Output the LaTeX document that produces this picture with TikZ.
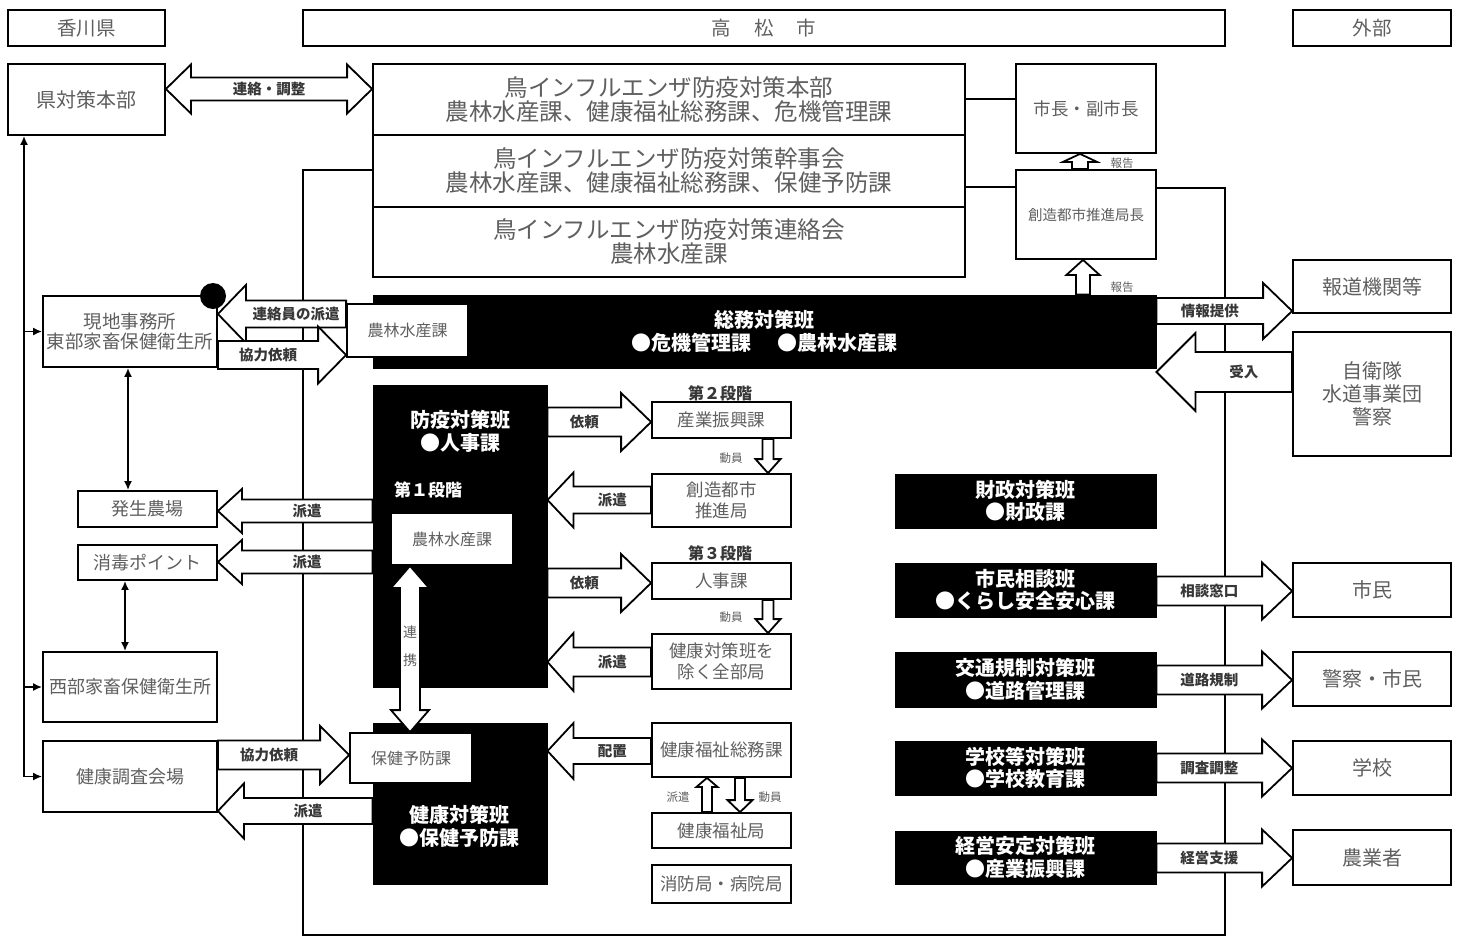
\documentclass[tikz,border=0pt]{standalone}
\usepackage{fontspec}
\setmainfont{Noto Sans CJK JP}
\usetikzlibrary{calc,arrows.meta}
\definecolor{tg}{RGB}{95,95,95}
\definecolor{lg}{RGB}{55,55,55}
% box by corners: style, name, x1, y1, x2, y2, text
\newcommand\BX[7]{\pgfmathsetmacro\bxw{#5-#3}\pgfmathsetmacro\bxh{#6-#4}%
  \node[#1, minimum width=\bxw pt, minimum height=\bxh pt] (#2) at ({(#3+#5)/2},{(#4+#6)/2}) {#7};}
% horizontal block arrow: from, tip, shaft half, head half, head length, label
\newcommand\HBA[6]{\draw[barrow] let \p1=#1, \p2=#2, \n1={sign(\x2-\x1)} in
  (\x1,{\y1+#3pt}) -- ({\x2-(\n1)*#5pt},{\y1+#3pt}) -- ({\x2-(\n1)*#5pt},{\y1+#4pt}) -- (\x2,\y1)
  -- ({\x2-(\n1)*#5pt},{\y1-#4pt}) -- ({\x2-(\n1)*#5pt},{\y1-#3pt}) -- (\x1,{\y1-#3pt}) -- cycle
  ({(\x1+\x2-(\n1)*#5pt)/2},\y1) node[lab] {#6};}
% vertical block arrow: from, tip, shaft half, head half, head length
\newcommand\VBA[5]{\draw[barrow] let \p1=#1, \p2=#2, \n1={sign(\y2-\y1)} in
  ({\x1+#3pt},\y1) -- ({\x1+#3pt},{\y2-(\n1)*#5pt}) -- ({\x1+#4pt},{\y2-(\n1)*#5pt}) -- (\x1,\y2)
  -- ({\x1-#4pt},{\y2-(\n1)*#5pt}) -- ({\x1-#3pt},{\y2-(\n1)*#5pt}) -- ({\x1-#3pt},\y1) -- cycle;}
% horizontal double block arrow: left tip, right tip, shaft half, head half, head length, label
\newcommand\DHA[6]{\draw[barrow] let \p1=#1, \p2=#2 in
  (\x1,\y1) -- ({\x1+#5pt},{\y1+#4pt}) -- ({\x1+#5pt},{\y1+#3pt}) -- ({\x2-#5pt},{\y1+#3pt}) -- ({\x2-#5pt},{\y1+#4pt})
  -- (\x2,\y1) -- ({\x2-#5pt},{\y1-#4pt}) -- ({\x2-#5pt},{\y1-#3pt}) -- ({\x1+#5pt},{\y1-#3pt}) -- ({\x1+#5pt},{\y1-#4pt}) -- cycle
  ({(\x1+\x2)/2},\y1) node[lab] {#6};}
% vertical double block arrow: top tip, bottom tip, shaft half, head half, head length
\newcommand\DVA[5]{\draw[barrow] let \p1=#1, \p2=#2 in
  (\x1,\y1) -- ({\x1+#4pt},{\y1-#5pt}) -- ({\x1+#3pt},{\y1-#5pt}) -- ({\x1+#3pt},{\y2+#5pt}) -- ({\x1+#4pt},{\y2+#5pt})
  -- (\x1,\y2) -- ({\x1-#4pt},{\y2+#5pt}) -- ({\x1-#3pt},{\y2+#5pt}) -- ({\x1-#3pt},{\y1-#5pt}) -- ({\x1-#4pt},{\y1-#5pt}) -- cycle;}
\begin{document}
\begin{tikzpicture}[x=1pt,y=-1pt,
  bx/.style={draw, line width=1.8pt, fill=white, inner sep=0pt, align=center, text=tg},
  blk/.style={draw=black, line width=1pt, fill=black, inner sep=0pt, align=center, text=white, font=\bfseries\fontsize{20}{22.5}\selectfont},
  wt/.style={text=white, font=\bfseries\fontsize{20}{23}\selectfont, align=center, inner sep=0pt},
  lab/.style={font=\bfseries\fontsize{14.5}{16}\selectfont, text=lg, inner sep=0pt},
  sml/.style={font=\fontsize{11.5}{13}\selectfont, text=tg, inner sep=0pt},
  ln/.style={line width=1.8pt},
  tip/.style={line width=1.8pt},
  barrow/.style={draw, line width=1.8pt, fill=white, line join=miter},
  fbig/.style={font=\fontsize{23.5}{24}\selectfont},
  f20/.style={font=\fontsize{20}{23}\selectfont},
  fhead/.style={font=\fontsize{19.5}{21}\selectfont},
  fgen/.style={font=\fontsize{18.5}{20.5}\selectfont},
  f18/.style={font=\fontsize{18}{21}\selectfont},
  f17/.style={font=\fontsize{17.5}{21}\selectfont},
  f16/.style={font=\fontsize{16}{18}\selectfont},
  fsozo/.style={font=\fontsize{14.5}{16}\selectfont},
  stage/.style={font=\bfseries\fontsize{16}{18}\selectfont, text=lg, inner sep=0pt},
]
\useasboundingbox (0,0) rectangle (1461,937);
\fill[white] (0,0) rectangle (1461,937);

% headers
\BX{bx,fhead}{hk}{8}{10}{165}{46}{香川県}
\BX{bx,fhead}{ht}{303}{10}{1225}{46}{高\hspace{23pt}松\hspace{23pt}市}
\BX{bx,fhead}{hg}{1293}{10}{1451}{46}{外部}

% top row
\BX{bx,f20}{ken}{8}{64}{165}{135}{県対策本部}
\BX{bx,fbig}{honbu}{373}{64}{965}{135}{鳥インフルエンザ防疫対策本部\\農林水産課、健康福祉総務課、危機管理課}
\BX{bx,fbig}{kanji}{373}{135}{965}{207}{鳥インフルエンザ防疫対策幹事会\\農林水産課、健康福祉総務課、保健予防課}
\BX{bx,fbig}{renraku}{373}{207}{965}{277}{鳥インフルエンザ防疫対策連絡会\\農林水産課}
\BX{bx,f17}{shicho}{1016}{64}{1156}{153}{市長・副市長}
\BX{bx,fsozo}{sozo}{1016}{170}{1156}{259}{創造都市推進局長}

% frame and connecting lines
\draw[ln] (kanji.west |- 0,170) -- (303,170) -- (303,935) -- (1225,935) -- (1225,188) -- (sozo.east |- 0,188);
\draw[ln] (honbu.east |- 0,99) -- (shicho.west |- 0,99);
\draw[ln] (kanji.east |- 0,187) -- (sozo.west |- 0,187);

% general affairs bar
\BX{blk}{soumu}{373}{295}{1156}{368}{総務対策班\\●危機管理課\hspace{26pt}●農林水産課}
\BX{bx,f16}{nousui1}{347}{304}{468}{357}{農林水産課}

% left column
\BX{bx,fgen}{genchi}{43}{296}{217}{367}{現地事務所\\東部家畜保健衛生所}
\BX{bx,f18}{hassei}{78}{491}{217}{527}{発生農場}
\BX{bx,f18}{shodoku}{78}{545}{217}{580}{消毒ポイント}
\BX{bx,f18}{seibu}{43}{652}{217}{722}{西部家畜保健衛生所}
\BX{bx,f18}{kenko}{43}{741}{217}{812}{健康調査会場}

% epidemic prevention / health groups
\BX{blk}{boeki}{373}{385}{547}{687}{}
\BX{bx,f16}{nousui2}{391}{513}{513}{565}{農林水産課}
\BX{blk}{kentai}{373}{723}{547}{884}{}
\BX{bx,f16}{hoken}{350}{733}{472}{783}{保健予防課}
\node[wt] (boekit) at (460,431) {防疫対策班\\●人事課};
\node[wt, font=\bfseries\fontsize{17}{20}\selectfont] (dai1) at (428,490) {第１段階};
\node[wt] (kentait) at (459,826) {健康対策班\\●保健予防課};

% middle column
\node[stage] (dai2) at (720,393) {第２段階};
\node[stage] (dai3) at (720,553) {第３段階};
\BX{bx,f17}{sangyo}{652}{402}{791}{438}{産業振興課}
\BX{bx,f17}{sozokyoku}{652}{474}{791}{527}{創造都市\\推進局}
\BX{bx,f17}{jinji}{652}{563}{791}{599}{人事課}
\BX{bx,f17}{zenbu}{652}{634}{791}{689}{健康対策班を\\除く全部局}
\BX{bx,f17}{fukushisomu}{652}{723}{791}{777}{健康福祉総務課}
\BX{bx,f17}{fukushikyoku}{652}{813}{791}{848}{健康福祉局}
\BX{bx,f17}{shobo}{652}{865}{791}{903}{消防局・病院局}

% right black groups
\BX{blk}{zaisei}{895}{474}{1156}{528}{財政対策班\\●財政課}
\BX{blk}{shiminb}{895}{563}{1156}{617}{市民相談班\\●くらし安全安心課}
\BX{blk}{kotsu}{895}{652}{1156}{707}{交通規制対策班\\●道路管理課}
\BX{blk}{gakkob}{895}{741}{1156}{795}{学校等対策班\\●学校教育課}
\BX{blk}{keiei}{895}{831}{1156}{884}{経営安定対策班\\●産業振興課}

% outside
\BX{bx,f20}{hodo}{1293}{260}{1451}{313}{報道機関等}
\BX{bx,f20}{jieitai}{1293}{332}{1451}{456}{自衛隊\\水道事業団\\警察}
\BX{bx,f20}{shimin}{1293}{563}{1451}{617}{市民}
\BX{bx,f20}{keisatsu}{1293}{652}{1451}{706}{警察・市民}
\BX{bx,f20}{gakko}{1293}{741}{1451}{795}{学校}
\BX{bx,f20}{nogyo}{1293}{830}{1451}{885}{農業者}

% thin connectors
\draw[tip, {Latex[length=9pt,width=8pt]}-{Latex[length=9pt,width=8pt]}] (ken.south -| 24,0) |- (kenko.west);
\draw[tip, -{Latex[length=9pt,width=8pt]}] (genchi.west -| 24,0) -- (genchi.west);
\draw[tip, -{Latex[length=9pt,width=8pt]}] (seibu.west -| 24,0) -- (seibu.west);
\draw[tip, {Latex[length=9pt,width=8pt]}-{Latex[length=9pt,width=8pt]}] (genchi.south -| 128,0) -- (hassei.north -| 128,0);
\draw[tip, {Latex[length=9pt,width=8pt]}-{Latex[length=9pt,width=8pt]}] (shodoku.south -| 125,0) -- (seibu.north -| 125,0);

% block arrows
\DHA{(ken.east |- 0,89)}{(honbu.west |- 0,89)}{11.5}{24.5}{25}{連絡・調整}
\HBA{(nousui1.west |- 0,314)}{(genchi.east |- 0,314)}{13.5}{29}{28}{連絡員の派遣}
\HBA{(genchi.east |- 0,355)}{(nousui1.west |- 0,355)}{14}{28.5}{28}{協力依頼}
\HBA{(boeki.west |- 0,511)}{(hassei.east |- 0,511)}{11.5}{22}{24}{派遣}
\HBA{(boeki.west |- 0,562)}{(shodoku.east |- 0,562)}{11.5}{22}{24}{派遣}
\HBA{(boeki.east |- 0,422)}{(sangyo.west |- 0,422)}{14.5}{29}{30}{依頼}
\HBA{(sozokyoku.west |- 0,500)}{(boeki.east |- 0,500)}{13.5}{27.5}{26}{派遣}
\HBA{(boeki.east |- 0,583)}{(jinji.west |- 0,583)}{14.5}{29}{30}{依頼}
\HBA{(zenbu.west |- 0,662)}{(boeki.east |- 0,662)}{14.5}{29}{26}{派遣}
\HBA{(fukushisomu.west |- 0,751)}{(kentai.east |- 0,751)}{13}{28}{26}{配置}
\HBA{(kenko.east |- 0,755)}{(hoken.west |- 0,755)}{14.5}{29}{29}{協力依頼}
\HBA{(kentai.west |- 0,811)}{(kenko.east |- 0,811)}{13}{27.5}{26}{派遣}
\HBA{(soumu.east |- 0,311)}{(hodo.west |- 0,311)}{13}{28}{29}{情報提供}
\HBA{(jieitai.west |- 0,372)}{(soumu.east |- 0,372)}{20}{39}{39}{受入}
\HBA{(shiminb.east |- 0,591)}{(shimin.west |- 0,591)}{14.5}{28.5}{30}{相談窓口}
\HBA{(kotsu.east |- 0,680)}{(keisatsu.west |- 0,680)}{14.5}{28.5}{30}{道路規制}
\HBA{(gakkob.east |- 0,768)}{(gakko.west |- 0,768)}{14.5}{28.5}{30}{調査調整}
\HBA{(keiei.east |- 0,858)}{(nogyo.west |- 0,858)}{14.5}{28.5}{30}{経営支援}

\VBA{(sozo.north -| 1080,0)}{(shicho.south -| 1080,0)}{8}{17}{8}
\VBA{(soumu.north -| 1083,0)}{(sozo.south -| 1083,0)}{7}{16.5}{15}
\VBA{(sangyo.south -| 768,0)}{(sozokyoku.north -| 768,0)}{5.5}{12.5}{14}
\VBA{(jinji.south -| 768,0)}{(zenbu.north -| 768,0)}{5.5}{12.5}{14}
\VBA{(fukushikyoku.north -| 707,0)}{(fukushisomu.south -| 707,0)}{5}{10.5}{9}
\VBA{(fukushisomu.south -| 740,0)}{(fukushikyoku.north -| 740,0)}{5}{12.5}{12}
\DVA{(nousui2.south -| 410,0)}{(hoken.north -| 410,0)}{10}{19}{22}

% small labels
\node[sml] (rep1) at (1122,163) {報告};
\node[sml] (rep2) at (1122,287) {報告};
\node[sml] (dou1) at (731,458) {動員};
\node[sml] (dou2) at (731,617) {動員};
\node[sml] (dou3) at (770,797) {動員};
\node[sml] (haken3) at (678,797) {派遣};
\node[text=tg, font=\fontsize{14}{16}\selectfont, inner sep=0pt] (ren) at (410,632) {連};
\node[text=tg, font=\fontsize{14}{16}\selectfont, inner sep=0pt] (kei) at (410,660) {携};

% dot
\node[circle, fill=black, minimum size=26pt, inner sep=0pt] (dot) at (213,296) {};
\end{tikzpicture}
\end{document}
